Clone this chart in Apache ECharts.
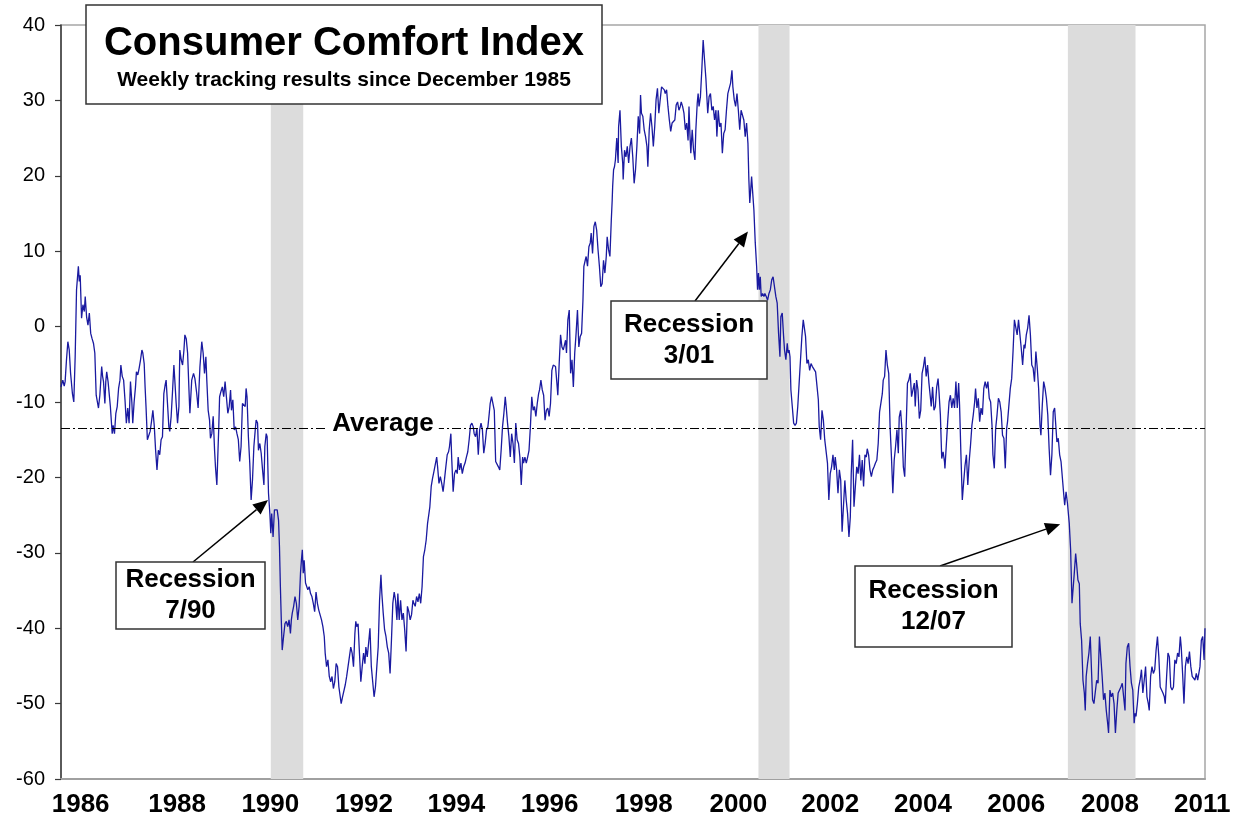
<!DOCTYPE html>
<html>
<head>
<meta charset="utf-8">
<title>Consumer Comfort Index</title>
<script src="https://cdn.jsdelivr.net/npm/echarts@6.0.0/dist/echarts.min.js"></script>
<style>
  html, body { margin: 0; padding: 0; background: #fff; }
  #chart { width: 1241px; height: 826px; }
</style>
</head>
<body>
<div id="chart"></div>
<script>
// weekly readings, x as decimal year
var weeks = [
  1985.91, 1985.95, 1985.98, 1986.00, 1986.03, 1986.06, 1986.09, 1986.12, 1986.16, 1986.19, 1986.22, 1986.25, 1986.29, 1986.31, 1986.33, 1986.36, 1986.39, 1986.42, 1986.44, 1986.47,
  1986.50, 1986.53, 1986.56, 1986.59, 1986.62, 1986.65, 1986.68, 1986.70, 1986.73, 1986.76, 1986.78, 1986.80, 1986.82, 1986.84, 1986.87, 1986.89, 1986.91, 1986.94, 1986.97, 1986.99,
  1987.03, 1987.05, 1987.08, 1987.11, 1987.14, 1987.17, 1987.20, 1987.22, 1987.25, 1987.28, 1987.31, 1987.34, 1987.37, 1987.40, 1987.43, 1987.46, 1987.48, 1987.51, 1987.54, 1987.56,
  1987.59, 1987.62, 1987.65, 1987.68, 1987.70, 1987.73, 1987.75, 1987.77, 1987.80, 1987.84, 1987.86, 1987.89, 1987.92, 1987.95, 1987.98, 1988.01, 1988.04, 1988.07, 1988.10, 1988.13,
  1988.16, 1988.19, 1988.21, 1988.24, 1988.27, 1988.29, 1988.32, 1988.35, 1988.38, 1988.40, 1988.43, 1988.46, 1988.49, 1988.51, 1988.54, 1988.57, 1988.60, 1988.62, 1988.65, 1988.68,
  1988.71, 1988.73,
  1988.77, 1988.81, 1988.84, 1988.88, 1988.91, 1988.95, 1988.99, 1989.02, 1989.05, 1989.08, 1989.10, 1989.13, 1989.16, 1989.18, 1989.21, 1989.24, 1989.27, 1989.29, 1989.32, 1989.34,
  1989.36, 1989.38, 1989.41, 1989.44, 1989.47, 1989.50, 1989.53, 1989.56, 1989.59, 1989.62, 1989.64, 1989.67, 1989.70, 1989.73, 1989.76, 1989.79, 1989.82, 1989.85, 1989.88, 1989.91,
  1989.94, 1989.96, 1989.98, 1990.01, 1990.04, 1990.07, 1990.10, 1990.13, 1990.16, 1990.18, 1990.21, 1990.23, 1990.26, 1990.29, 1990.32, 1990.35, 1990.37, 1990.40, 1990.42, 1990.45,
  1990.48, 1990.50, 1990.52, 1990.55, 1990.58, 1990.61, 1990.64, 1990.67, 1990.69, 1990.71, 1990.73, 1990.75, 1990.78, 1990.81, 1990.84, 1990.87, 1990.90, 1990.93, 1990.95, 1990.97,
  1991.00, 1991.03, 1991.06, 1991.09, 1991.12, 1991.15, 1991.17, 1991.19, 1991.21, 1991.23, 1991.26, 1991.29, 1991.31, 1991.34, 1991.37, 1991.40, 1991.43,
  1991.46, 1991.49, 1991.52, 1991.55, 1991.58, 1991.61, 1991.64, 1991.67, 1991.69, 1991.72, 1991.75, 1991.78, 1991.81, 1991.84, 1991.87, 1991.90, 1991.93, 1991.96, 1991.99, 1992.02,
  1992.04, 1992.07, 1992.10, 1992.13, 1992.16, 1992.19, 1992.22, 1992.25, 1992.28, 1992.31, 1992.34, 1992.36, 1992.38, 1992.41, 1992.44, 1992.47, 1992.50, 1992.53, 1992.56, 1992.58,
  1992.61, 1992.64, 1992.67, 1992.70, 1992.73, 1992.76, 1992.79, 1992.82, 1992.85, 1992.88, 1992.91, 1992.93, 1992.96, 1992.99, 1993.02, 1993.05, 1993.08, 1993.11, 1993.14, 1993.17,
  1993.20, 1993.23, 1993.26, 1993.28, 1993.31, 1993.34, 1993.37, 1993.40, 1993.43, 1993.46, 1993.49, 1993.52, 1993.55, 1993.58, 1993.61, 1993.63, 1993.66, 1993.69, 1993.72, 1993.75,
  1993.78, 1993.81, 1993.84, 1993.87, 1993.90, 1993.93, 1993.96, 1993.98, 1994.01, 1994.04, 1994.07, 1994.10, 1994.13, 1994.15,
  1994.18, 1994.21, 1994.24, 1994.27, 1994.30, 1994.33, 1994.36, 1994.39, 1994.41, 1994.44, 1994.46, 1994.49, 1994.52, 1994.55, 1994.58, 1994.60, 1994.63, 1994.66, 1994.69, 1994.72,
  1994.75, 1994.78, 1994.81, 1994.84, 1994.87, 1994.90, 1994.93, 1994.95, 1994.98, 1995.01, 1995.04, 1995.07, 1995.10, 1995.13, 1995.16, 1995.19, 1995.22, 1995.25, 1995.28, 1995.30,
  1995.33, 1995.36, 1995.39, 1995.42, 1995.45, 1995.48, 1995.51, 1995.54, 1995.57, 1995.60, 1995.63, 1995.65, 1995.68, 1995.71, 1995.74, 1995.77, 1995.80, 1995.83, 1995.86, 1995.89,
  1995.92, 1995.95, 1995.98, 1996.01, 1996.03, 1996.06, 1996.09, 1996.12, 1996.15, 1996.18, 1996.21, 1996.24, 1996.27, 1996.30, 1996.33, 1996.36, 1996.38, 1996.41, 1996.44, 1996.47,
  1996.50, 1996.53, 1996.56, 1996.59, 1996.62, 1996.65, 1996.68, 1996.71, 1996.73, 1996.76, 1996.78, 1996.81, 1996.84, 1996.87, 1996.90,
  1996.95, 1996.97, 1997.00, 1997.03, 1997.06, 1997.09, 1997.12, 1997.15, 1997.18, 1997.21, 1997.24, 1997.27, 1997.30, 1997.33, 1997.35, 1997.38, 1997.40, 1997.43, 1997.46, 1997.49,
  1997.51, 1997.54, 1997.57, 1997.60, 1997.63, 1997.66, 1997.69, 1997.72, 1997.75, 1997.78, 1997.81, 1997.84, 1997.86, 1997.89, 1997.92, 1997.95, 1997.97, 1997.98, 1998.00, 1998.02,
  1998.04, 1998.07, 1998.10, 1998.11, 1998.14, 1998.17, 1998.20, 1998.21, 1998.24, 1998.27, 1998.30, 1998.33, 1998.36, 1998.39, 1998.42, 1998.45, 1998.48, 1998.51, 1998.54, 1998.57,
  1998.59, 1998.61, 1998.64, 1998.67, 1998.70, 1998.73, 1998.75, 1998.78, 1998.81, 1998.84, 1998.87, 1998.90, 1998.93, 1998.96, 1998.99, 1999.02, 1999.05, 1999.08, 1999.11, 1999.13,
  1999.16, 1999.19, 1999.22, 1999.25, 1999.28, 1999.31, 1999.34, 1999.37, 1999.40, 1999.43, 1999.46, 1999.48, 1999.51, 1999.54, 1999.57, 1999.60, 1999.63,
  1999.65, 1999.67, 1999.69, 1999.72, 1999.75, 1999.78, 1999.80, 1999.83, 1999.85, 1999.87, 1999.90, 1999.93, 1999.96, 1999.99, 2000.02, 2000.04, 2000.06, 2000.09, 2000.12, 2000.15,
  2000.18, 2000.21, 2000.24, 2000.26, 2000.29, 2000.32, 2000.35, 2000.38, 2000.41, 2000.44, 2000.47, 2000.50, 2000.53, 2000.56, 2000.59, 2000.61, 2000.64, 2000.67, 2000.70, 2000.73,
  2000.76, 2000.79, 2000.82, 2000.85, 2000.88, 2000.91, 2000.94, 2000.96, 2000.98, 2001.00, 2001.02, 2001.04, 2001.07, 2001.10, 2001.13, 2001.15, 2001.17, 2001.19, 2001.21, 2001.23,
  2001.26, 2001.29, 2001.31, 2001.34, 2001.37, 2001.40, 2001.43, 2001.46, 2001.49, 2001.52, 2001.55, 2001.58, 2001.61, 2001.64, 2001.66, 2001.69, 2001.72, 2001.74, 2001.77, 2001.80,
  2001.82, 2001.84, 2001.86, 2001.88, 2001.91, 2001.94, 2001.97, 2002.00, 2002.03, 2002.06, 2002.09, 2002.12, 2002.15, 2002.18, 2002.20, 2002.23, 2002.26, 2002.29, 2002.32, 2002.35,
  2002.38,
  2002.42, 2002.45, 2002.48, 2002.50, 2002.53, 2002.56, 2002.59, 2002.62, 2002.65, 2002.68, 2002.71, 2002.74, 2002.77, 2002.80, 2002.83, 2002.85, 2002.88, 2002.91, 2002.94, 2002.97,
  2003.00, 2003.03, 2003.06, 2003.09, 2003.12, 2003.15, 2003.18, 2003.20, 2003.23, 2003.26, 2003.29, 2003.32, 2003.35, 2003.38, 2003.41, 2003.44, 2003.47, 2003.50, 2003.53, 2003.55,
  2003.58, 2003.61, 2003.64, 2003.67, 2003.70, 2003.73, 2003.76, 2003.79, 2003.82, 2003.85, 2003.88, 2003.90, 2003.93, 2003.96, 2003.99, 2004.02, 2004.05, 2004.08, 2004.11, 2004.14,
  2004.17, 2004.20, 2004.23, 2004.25, 2004.28, 2004.31, 2004.34, 2004.37, 2004.40, 2004.43, 2004.46, 2004.49, 2004.52, 2004.55, 2004.58, 2004.60, 2004.63, 2004.66, 2004.69, 2004.72,
  2004.75, 2004.78, 2004.81, 2004.84, 2004.87, 2004.90, 2004.93, 2004.95, 2004.98, 2005.01, 2005.04, 2005.07, 2005.10,
  2005.12, 2005.15, 2005.18, 2005.21, 2005.24, 2005.25, 2005.28, 2005.31, 2005.34, 2005.37, 2005.40, 2005.43, 2005.46, 2005.49, 2005.52, 2005.55, 2005.57, 2005.60, 2005.63, 2005.66,
  2005.69, 2005.72, 2005.75, 2005.78, 2005.81, 2005.84, 2005.87, 2005.90, 2005.92, 2005.95, 2005.98, 2006.01, 2006.04, 2006.07, 2006.10, 2006.13, 2006.16, 2006.19, 2006.22, 2006.25,
  2006.28, 2006.30, 2006.33, 2006.36, 2006.39, 2006.42, 2006.45, 2006.48, 2006.51, 2006.54, 2006.57, 2006.60, 2006.62, 2006.65, 2006.68, 2006.71, 2006.74, 2006.77, 2006.80, 2006.83,
  2006.86, 2006.89, 2006.92, 2006.95, 2006.98, 2007.00, 2007.03, 2007.06, 2007.09, 2007.12, 2007.15, 2007.18, 2007.21, 2007.24, 2007.27, 2007.30, 2007.33, 2007.35, 2007.38, 2007.41,
  2007.44, 2007.47, 2007.50, 2007.53, 2007.56, 2007.59, 2007.62, 2007.65, 2007.68, 2007.70, 2007.73, 2007.76, 2007.79, 2007.82, 2007.85, 2007.87,
  2007.90, 2007.93, 2007.96, 2007.97, 2008.00, 2008.03, 2008.06, 2008.08, 2008.11, 2008.13, 2008.16, 2008.19, 2008.21, 2008.24, 2008.27, 2008.30, 2008.32, 2008.34, 2008.37, 2008.40,
  2008.43, 2008.46, 2008.48, 2008.51, 2008.54, 2008.57, 2008.60, 2008.63, 2008.66, 2008.69, 2008.72, 2008.75, 2008.78, 2008.81, 2008.83, 2008.86, 2008.89, 2008.92, 2008.95, 2008.98,
  2009.01, 2009.04, 2009.07, 2009.10, 2009.13, 2009.16, 2009.19, 2009.21, 2009.24, 2009.27, 2009.30, 2009.33, 2009.36, 2009.39, 2009.41, 2009.43, 2009.46, 2009.49, 2009.52, 2009.55,
  2009.58, 2009.61, 2009.64, 2009.67, 2009.70, 2009.72, 2009.75, 2009.78, 2009.81, 2009.84, 2009.87, 2009.90, 2009.93, 2009.96, 2009.99, 2010.02, 2010.05, 2010.07, 2010.10, 2010.13,
  2010.16, 2010.19, 2010.22, 2010.25, 2010.28, 2010.31, 2010.34, 2010.37, 2010.40, 2010.42, 2010.45, 2010.48, 2010.51, 2010.54, 2010.57, 2010.60, 2010.63, 2010.66, 2010.69, 2010.72,
  2010.75, 2010.78, 2010.80, 2010.83, 2010.86, 2010.89, 2010.92, 2010.94
];

var comfort = [
  -8.0, -7.1, -7.9, -7.3, -4.4, -2.0, -3.1, -6.2, -8.9, -10.0, -4.0, 4.9, 8.0, 6.0, 6.8, 1.1, 2.9, 2.0, 4.0, 1.3,
  0.2, 1.8, -0.9, -1.6, -2.2, -3.5, -9.1, -8.9, -10.8, -9.1, -9.3, -5.3, -6.6, -7.3, -10.2, -7.3, -6.0, -7.3, -7.5, -10.6,
  -14.2, -13.1, -14.2, -11.5, -10.6, -8.2, -7.1, -5.1, -6.6, -7.1, -9.7, -12.8, -10.8, -12.8, -7.3, -10.0, -12.8, -10.0, -8.0, -6.0,
  -6.4, -5.5, -4.4, -3.1, -3.5, -4.9, -8.0, -10.6, -15.0, -15.0, -13.9, -12.6, -11.1, -13.1, -16.4, -19.0, -16.4, -17.0, -15.0, -14.6,
  -8.9, -7.7, -7.1, -10.2, -13.3, -13.9, -11.9, -8.6, -5.1, -7.1, -10.2, -12.8, -10.6, -3.1, -4.4, -5.1, -3.1, -1.1, -1.6, -3.5,
  -8.4, -11.5,
  -7.1, -6.2, -6.9, -8.9, -10.8, -5.3, -2.0, -3.5, -6.2, -4.0, -7.1, -11.1, -12.4, -14.8, -14.2, -11.9, -16.4, -18.6, -21.0, -17.3,
  -13.7, -9.3, -8.6, -8.0, -9.3, -7.3, -7.1, -11.5, -10.6, -8.4, -11.1, -9.7, -13.7, -13.3, -14.2, -15.0, -17.9, -15.9, -10.2, -10.0,
  -10.6, -8.2, -9.3, -14.6, -18.1, -23.0, -20.3, -15.9, -13.7, -12.4, -12.8, -16.4, -15.5, -16.8, -19.0, -21.0, -15.9, -14.2, -14.6, -22.1,
  -24.8, -27.4, -24.8, -27.9, -24.3, -24.1, -24.3, -25.7, -29.2, -34.5, -38.9, -42.9, -41.1, -39.4, -39.1, -39.8, -38.9, -40.7, -38.9, -38.0,
  -37.1, -35.8, -36.7, -38.9, -37.1, -32.7, -31.0, -29.6, -32.7, -31.0, -34.0, -34.0, -34.9, -34.5, -35.4, -35.8, -36.7,
  -37.8, -35.2, -36.7, -37.6, -37.4, -38.9, -39.8, -41.1, -43.3, -45.1, -44.2, -46.4, -47.1, -46.4, -48.0, -47.1, -44.7, -45.1, -47.8, -49.1,
  -50.0, -49.1, -49.0, -47.5, -46.4, -45.1, -43.8, -42.5, -43.3, -45.1, -40.7, -39.1, -39.8, -39.4, -43.3, -47.1, -45.1, -43.3, -44.7, -42.5,
  -43.8, -42.0, -40.0, -45.1, -47.1, -49.1, -47.8, -45.1, -42.5, -36.3, -32.9, -35.4, -38.0, -40.2, -41.1, -42.5, -43.3, -46.0, -41.6, -36.7,
  -35.2, -36.3, -38.9, -35.4, -38.9, -36.3, -38.9, -38.0, -40.2, -43.1, -37.1, -37.8, -38.9, -38.2, -36.3, -36.7, -37.1, -35.8, -36.5, -35.4,
  -36.7, -34.5, -30.5, -29.6, -28.3, -26.1, -24.8, -23.9, -21.2, -20.1, -19.2, -19.0, -17.3, -18.6,
  -20.8, -19.9, -20.8, -21.9, -20.3, -18.6, -17.0, -16.6, -15.9, -14.2, -17.7, -21.9, -19.5, -19.0, -19.5, -17.3, -19.0, -18.1, -19.5, -18.6,
  -18.1, -17.3, -16.6, -15.0, -13.1, -12.8, -13.3, -14.2, -14.6, -13.5, -17.0, -13.7, -12.8, -13.7, -16.8, -15.5, -13.7, -13.3, -11.5, -10.2,
  -9.3, -9.1, -11.1, -17.9, -18.1, -18.6, -19.0, -16.4, -13.3, -11.5, -9.3, -10.6, -12.8, -14.6, -17.3, -14.2, -15.5, -18.1, -12.8, -15.0,
  -15.5, -17.3, -21.0, -17.3, -18.1, -17.3, -18.1, -17.3, -16.4, -13.3, -9.3, -11.1, -10.6, -11.9, -10.2, -8.9, -8.4, -7.1, -8.4, -9.1,
  -12.4, -11.1, -10.8, -11.9, -10.2, -5.8, -5.1, -5.3, -5.3, -7.5, -9.1, -4.9, -1.1, -2.7, -3.1,
  -1.8, -3.5, 0.9, 2.2, -6.2, -4.4, -8.0, -3.5, -0.9, 2.2, -2.7, -1.3, -0.9, 3.5, 8.0, 8.8, 9.3, 8.0, 10.6, 11.1,
  12.4, 9.7, 13.3, 13.9, 12.8, 10.2, 8.0, 5.3, 5.7, 8.8, 7.1, 9.3, 11.9, 10.2, 9.3, 14.1, 16.8, 18.6, 20.8, 21.2,
  22.1, 25.0, 21.7, 26.5, 28.7, 23.9, 21.7, 19.5, 23.4, 22.5, 23.9, 21.7, 23.9, 25.0, 22.5, 19.0, 20.8, 23.9, 27.9, 25.6,
  30.7, 28.3, 27.9, 26.1, 25.2, 23.9, 21.2, 26.1, 28.3, 26.5, 23.9, 26.5, 30.1, 31.6, 28.3, 30.1, 31.8, 31.8, 31.4, 30.9,
  31.4, 29.2, 27.4, 25.9, 27.0, 27.0, 27.4, 29.4, 29.8, 28.7, 29.2, 29.8, 29.2, 28.3, 26.1, 27.0, 24.7,
  29.2, 25.6, 23.0, 26.1, 23.4, 22.1, 26.1, 29.6, 30.9, 29.2, 30.5, 34.0, 38.0, 35.4, 32.9, 32.9, 28.3, 30.5, 30.9, 28.7,
  29.2, 27.4, 28.7, 25.2, 28.7, 26.5, 27.0, 23.0, 25.6, 26.1, 28.7, 30.9, 30.9, 32.3, 34.0, 31.8, 30.1, 29.2, 30.9, 28.7,
  26.1, 28.7, 28.7, 27.4, 25.2, 27.0, 24.3, 19.5, 16.4, 18.1, 19.9, 18.1, 15.5, 11.1, 8.0, 4.9, 7.1, 4.9, 6.6, 4.0,
  4.4, 4.0, 4.4, 4.0, 3.5, 4.4, 4.9, 6.2, 6.6, 6.6, 4.0, 3.1, -0.9, -4.0, 1.3, 1.8, -1.3, -3.1, -4.4, -2.2,
  -3.5, -3.1, -4.0, -8.4, -10.6, -12.8, -13.1, -12.8, -10.6, -7.5, -4.4, -1.3, 0.9, 0.9, -1.3, -4.9, -4.4, -5.8, -4.9, -5.3,
  -5.5,
  -6.0, -6.2, -9.7, -13.3, -15.0, -11.1, -12.4, -15.0, -15.0, -18.1, -23.0, -19.5, -18.6, -17.0, -19.0, -17.3, -19.0, -22.1, -19.0, -20.4,
  -27.2, -27.2, -20.4, -23.0, -24.8, -27.9, -25.2, -19.5, -15.0, -23.9, -21.2, -18.6, -19.5, -17.0, -20.4, -17.7, -21.2, -17.0, -17.3, -16.2,
  -17.0, -19.0, -19.9, -19.0, -18.6, -18.1, -17.7, -15.5, -11.3, -11.1, -8.9, -7.1, -6.6, -3.1, -5.1, -6.2, -13.3, -17.3, -22.1, -17.7,
  -15.9, -13.7, -16.8, -12.0, -11.1, -13.7, -18.6, -19.9, -13.7, -7.5, -7.1, -6.2, -9.3, -9.5, -7.5, -10.6, -7.1, -8.4, -12.2, -11.1,
  -6.2, -5.3, -4.0, -6.6, -5.1, -7.5, -9.3, -10.6, -8.0, -11.1, -10.6, -8.0, -6.9,
  -8.6, -11.7, -17.5, -16.6, -17.9, -18.8, -15.7, -12.6, -10.0, -9.1, -10.8, -9.5, -10.8, -7.3, -10.8, -7.5, -10.4, -17.0, -23.0, -20.6,
  -18.4, -17.0, -21.0, -17.9, -15.7, -13.1, -11.7, -10.0, -8.2, -10.8, -9.5, -12.6, -10.8, -11.7, -8.2, -7.3, -8.2, -7.3, -9.5, -10.0,
  -13.1, -17.0, -18.8, -13.5, -11.7, -9.5, -10.0, -11.3, -14.4, -14.8, -18.8, -13.5, -12.6, -12.6, -8.2, -6.9, -3.3, 0.9, 0.7, -1.1,
  0.9, 0.7, -2.9, -5.1, -2.4, -2.9, -1.1, -0.2, 1.5, -1.1, -5.1, -5.5, -7.3, -3.3, -5.5, -8.2, -13.1, -14.4, -10.4, -7.3,
  -8.2, -9.5, -11.7, -16.2, -19.7, -17.0, -11.3, -10.8, -13.5, -15.3, -14.8, -17.0, -17.9, -17.9, -22.3, -23.7,
  -21.9, -23.4, -23.2, -26.1, -29.6, -36.7, -36.9, -32.7, -30.1, -31.4, -33.6, -34.1, -39.4, -41.6, -46.9, -48.6, -50.9, -46.4, -44.7, -43.3,
  -41.1, -41.1, -49.5, -50.0, -50.0, -46.9, -47.3, -41.1, -41.1, -46.4, -49.5, -48.6, -50.9, -52.6, -53.9, -48.2, -49.1, -48.6, -50.0, -53.9,
  -50.9, -48.6, -48.2, -47.8, -47.3, -49.1, -50.9, -44.7, -42.5, -42.0, -45.1, -47.3, -48.2, -52.6, -51.3, -51.7, -50.0, -47.8, -46.9, -45.5,
  -48.6, -46.9, -45.1, -49.1, -50.0, -50.9, -46.4, -45.1, -46.0, -45.5, -42.9, -41.1, -43.8, -47.8, -48.2, -48.6, -49.1, -50.0, -46.4, -43.3,
  -43.8, -47.8, -48.2, -47.8, -44.2, -44.7, -43.3, -43.8, -41.1, -42.5, -46.0, -50.0, -45.1, -43.8, -44.7, -43.1, -45.1, -46.4, -46.4, -46.9,
  -46.0, -46.9, -47.1, -45.1, -41.6, -41.1, -44.2, -40.0
];

var tickYears = [1986.34, 1988.45, 1990.49, 1992.54, 1994.56, 1996.60, 1998.66, 2000.73, 2002.74, 2004.77, 2006.81, 2008.86, 2010.88];
var tickLabels = ['1986', '1988', '1990', '1992', '1994', '1996', '1998', '2000', '2002', '2004', '2006', '2008', '2011'];

var recessions = [[1990.50, 1991.21], [2001.17, 2001.85], [2007.94, 2009.42]];
var average = -13.5;

// callout boxes: box in pixels, arrow points at a data position
var callouts = [
  { lines: 'Recession\n7/90',  box: [116, 562, 149, 67], tail: [193, 562], tip: [1990.44, -23.0] },
  { lines: 'Recession\n3/01',  box: [611, 301, 156, 78], tail: [695, 301], tip: [2000.94, 12.6] },
  { lines: 'Recession\n12/07', box: [855, 566, 157, 81], tail: [940, 566], tip: [2007.77, -26.2] }
];

var font = '"Liberation Sans", Arial, Helvetica, sans-serif';

var chart = echarts.init(document.getElementById('chart'));

chart.setOption({
  animation: false,
  backgroundColor: '#fff',
  grid: { left: 61, right: 36, top: 25, bottom: 47, show: true, borderColor: '#a6a6a6', borderWidth: 1.5 },
  xAxis: {
    type: 'value',
    min: 1985.91,
    max: 2010.94,
    axisLine: { show: true, onZero: false, lineStyle: { color: '#a0a0a0', width: 2 } },
    axisTick: { show: false },
    splitLine: { show: false },
    axisLabel: {
      customValues: tickYears,
      hideOverlap: false,
      margin: 13,
      fontFamily: font,
      fontWeight: 'bold',
      fontSize: 26,
      color: '#000',
      formatter: function (v) {
        var best = 0;
        for (var i = 1; i < tickYears.length; i++) {
          if (Math.abs(tickYears[i] - v) < Math.abs(tickYears[best] - v)) best = i;
        }
        return tickLabels[best];
      }
    }
  },
  yAxis: {
    type: 'value',
    min: -60,
    max: 40,
    interval: 10,
    axisLine: { show: true, lineStyle: { color: '#3a3a3a', width: 1.5 } },
    axisTick: { show: true, inside: false, length: 6, lineStyle: { color: '#3a3a3a', width: 1.2 } },
    splitLine: { show: false },
    axisLabel: { margin: 16, fontFamily: font, fontSize: 20, color: '#000' }
  },
  series: [
    {
      // recession shading
      type: 'line',
      data: [],
      z: 1,
      markArea: {
        silent: true,
        itemStyle: { color: '#dcdcdc' },
        data: recessions.map(function (r) { return [{ xAxis: r[0] }, { xAxis: r[1] }]; })
      }
    },
    {
      // long-run average
      type: 'line',
      data: [],
      z: 2,
      markLine: {
        silent: true,
        symbol: 'none',
        label: { show: false },
        lineStyle: { color: '#000', width: 1, type: [9, 3, 2, 3] },
        data: [{ yAxis: average }]
      }
    },
    {
      name: 'Consumer Comfort Index',
      type: 'line',
      z: 3,
      symbol: 'none',
      data: weeks.map(function (w, i) { return [w, comfort[i]]; }),
      lineStyle: { color: '#1a1aa0', width: 1.3 }
    }
  ]
});

// annotations drawn on top
var g = [];
g.push({ type: 'rect', z: 100, shape: { x: 86, y: 5, width: 516, height: 99 }, style: { fill: '#fff', stroke: '#333', lineWidth: 1.5 } });
g.push({ type: 'text', z: 101, x: 344, y: 44, style: { text: 'Consumer Comfort Index', font: 'bold 40px ' + font, fill: '#000', align: 'center', verticalAlign: 'middle' } });
g.push({ type: 'text', z: 101, x: 344, y: 80, style: { text: 'Weekly tracking results since December 1985', font: 'bold 21px ' + font, fill: '#000', align: 'center', verticalAlign: 'middle' } });

var avgPix = chart.convertToPixel({ xAxisIndex: 0, yAxisIndex: 0 }, [1987.3, average]);
g.push({ type: 'text', z: 101, x: 383, y: avgPix[1] - 5, style: { text: 'Average', font: 'bold 26px ' + font, fill: '#000', align: 'center', verticalAlign: 'middle', backgroundColor: '#fff', padding: [0, 5] } });

callouts.forEach(function (c) {
  var b = c.box;
  var tip = chart.convertToPixel({ xAxisIndex: 0, yAxisIndex: 0 }, c.tip);
  var dx = tip[0] - c.tail[0], dy = tip[1] - c.tail[1];
  var len = Math.sqrt(dx * dx + dy * dy);
  var ux = dx / len, uy = dy / len;
  var hl = 15, hw = 6.5;
  var bx = tip[0] - ux * hl, by = tip[1] - uy * hl;
  g.push({ type: 'line', z: 100, shape: { x1: c.tail[0], y1: c.tail[1], x2: bx, y2: by }, style: { stroke: '#000', lineWidth: 1.5 } });
  g.push({ type: 'polygon', z: 100, shape: { points: [[tip[0], tip[1]], [bx - uy * hw, by + ux * hw], [bx + uy * hw, by - ux * hw]] }, style: { fill: '#000' } });
  g.push({ type: 'rect', z: 100, shape: { x: b[0], y: b[1], width: b[2], height: b[3] }, style: { fill: '#fff', stroke: '#333', lineWidth: 1.5 } });
  g.push({ type: 'text', z: 101, x: b[0] + b[2] / 2, y: b[1] + b[3] / 2, style: { text: c.lines, font: 'bold 26px ' + font, lineHeight: 31, fill: '#000', align: 'center', verticalAlign: 'middle' } });
});

chart.setOption({ graphic: g });
</script>
</body>
</html>
